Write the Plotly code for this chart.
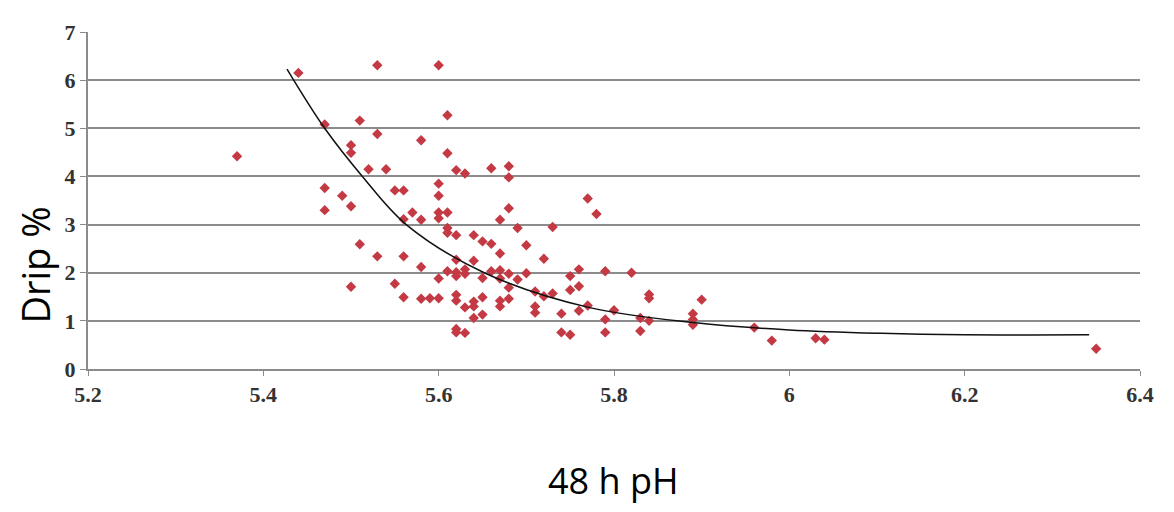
import plotly.graph_objects as go

ph = [5.37, 5.44, 5.53, 5.60, 5.61, 5.47, 5.51, 5.53, 5.58, 5.50, 5.50, 5.61, 5.52, 5.54, 5.62, 5.63,
      5.66, 5.68, 5.68, 5.47, 5.49, 5.55, 5.56, 5.60, 5.60, 5.47, 5.50, 5.57, 5.56, 5.58, 5.60, 5.61,
      5.60, 5.68, 5.67, 5.69, 5.70, 5.61, 5.61, 5.62, 5.64, 5.65, 5.66, 5.67, 5.51, 5.53, 5.56, 5.58,
      5.62, 5.64, 5.61, 5.62, 5.63, 5.63, 5.66, 5.67, 5.68, 5.70, 5.60, 5.62, 5.65, 5.67, 5.69, 5.68,
      5.50, 5.55, 5.56, 5.58, 5.59, 5.60, 5.62, 5.62, 5.64, 5.65, 5.63, 5.64, 5.67, 5.67, 5.68, 5.64,
      5.65, 5.62, 5.62, 5.63, 5.77, 5.78, 5.73, 5.72, 5.76, 5.75, 5.79, 5.82, 5.71, 5.72, 5.73, 5.75,
      5.76, 5.71, 5.71, 5.74, 5.77, 5.76, 5.80, 5.79, 5.84, 5.84, 5.83, 5.84, 5.89, 5.89, 5.89, 5.90,
      5.74, 5.75, 5.79, 5.83, 5.96, 5.98, 6.03, 6.04, 6.35]
drip = [4.42, 6.15, 6.31, 6.31, 5.27, 5.08, 5.16, 4.88, 4.75, 4.65, 4.49, 4.48, 4.15, 4.15, 4.13, 4.06,
        4.17, 4.21, 3.98, 3.76, 3.60, 3.71, 3.71, 3.85, 3.60, 3.30, 3.38, 3.25, 3.11, 3.10, 3.25, 3.25,
        3.13, 3.34, 3.10, 2.93, 2.57, 2.93, 2.83, 2.78, 2.78, 2.65, 2.60, 2.40, 2.59, 2.34, 2.34, 2.12,
        2.27, 2.25, 2.03, 2.01, 2.07, 1.98, 2.03, 2.05, 1.98, 1.99, 1.88, 1.93, 1.89, 1.88, 1.86, 1.69,
        1.71, 1.77, 1.49, 1.46, 1.47, 1.47, 1.54, 1.42, 1.40, 1.49, 1.28, 1.30, 1.42, 1.30, 1.46, 1.06,
        1.13, 0.83, 0.76, 0.75, 3.54, 3.22, 2.95, 2.29, 2.07, 1.93, 2.03, 2.00, 1.61, 1.51, 1.57, 1.64,
        1.72, 1.30, 1.17, 1.15, 1.32, 1.21, 1.22, 1.03, 1.55, 1.47, 1.06, 1.00, 1.15, 1.03, 0.92, 1.44,
        0.76, 0.71, 0.76, 0.79, 0.86, 0.59, 0.64, 0.61, 0.42]

trend_x = [5.427, 5.470, 5.513, 5.563, 5.652, 5.771, 5.893, 6.000, 6.105, 6.200, 6.342]
trend_y = [6.23, 5.00, 4.00, 3.00, 2.00, 1.28, 0.96, 0.81, 0.74, 0.71, 0.71]

fig = go.Figure()
fig.add_trace(go.Scatter(x=ph, y=drip, mode="markers",
                         marker=dict(symbol="diamond", size=8, color="#c43a44"),
                         showlegend=False))
fig.add_trace(go.Scatter(x=trend_x, y=trend_y, mode="lines",
                         line=dict(color="#111111", width=1.5, shape="spline", smoothing=1.0),
                         showlegend=False))

tickfont = dict(family="Liberation Serif", size=22, color="#333333", weight="bold")
fig.update_layout(
    width=1158, height=496,
    margin=dict(l=80, r=23, t=17, b=135),
    paper_bgcolor="white", plot_bgcolor="white",
    xaxis=dict(range=[5.2, 6.4], dtick=0.2, tick0=5.2, showgrid=False, zeroline=False,
               showline=True, linecolor="#8c8c8c", linewidth=2,
               ticks="outside", ticklen=5, tickcolor="#8c8c8c", tickfont=tickfont),
    yaxis=dict(range=[0, 7], dtick=1, showgrid=True, gridcolor="#8c8c8c", gridwidth=2,
               zeroline=False, showline=True, linecolor="#8c8c8c", linewidth=2,
               ticks="outside", ticklen=6, tickcolor="#8c8c8c", tickfont=tickfont),
    annotations=[
        dict(text="Drip %", xref="paper", yref="paper", x=-0.05, y=0.308, textangle=-90,
             showarrow=False, font=dict(family="Open Sans", size=38, color="black"),
             xanchor="center", yanchor="middle"),
        dict(text="48 h pH", xref="paper", yref="paper", x=0.4995, y=-0.331,
             showarrow=False, font=dict(family="Open Sans", size=36, color="black"),
             xanchor="center", yanchor="middle"),
    ],
)
fig.write_html("out.html")
